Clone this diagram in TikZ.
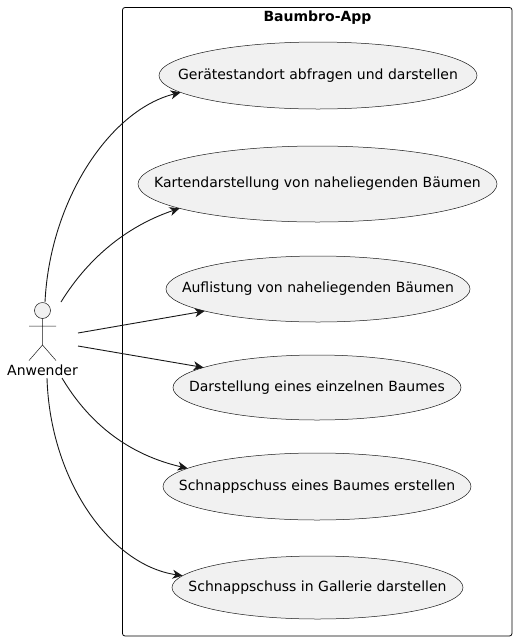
\documentclass[tikz,border=0pt]{standalone}
\usepackage{fontspec}
\setmainfont{DejaVu Sans}
\usetikzlibrary{shapes.geometric,arrows.meta}
\definecolor{cf1f1f1}{RGB}{241,241,241}
\definecolor{c181818}{RGB}{24,24,24}
\tikzset{
  usecase/.style={ellipse,draw=c181818,fill=cf1f1f1,line width=0.5pt,
    inner sep=0pt},
  every label/.style={font=\fontsize{14}{16}\selectfont,text=black},
  assoc/.style={draw=c181818,line width=0.9pt,
    -{Stealth[length=10pt,width=9pt,inset=3pt]}},
}

\begin{document}
\begin{tikzpicture}[y=1pt, x=1pt,yscale=-1, inner sep=0pt, outer sep=0pt]
  \useasboundingbox (0,0) rectangle (518,641);
  % system boundary
  \path[draw=black,line width=0.8pt,rounded corners=2.5pt]
    (122.5,7.5) rectangle (512,636);
  \path (317.5,17.5) node[font=\bfseries\fontsize{14}{16}\selectfont] (title)
    {Baumbro-App};

  % use cases
  \node[usecase,minimum width=318pt,minimum height=67pt,
    label={center:Gerätestandort abfragen und darstellen}] (uc1) at (318,75.5) {};
  \node[usecase,minimum width=359pt,minimum height=76pt,
    label={center:Kartendarstellung von naheliegenden Bäumen}] (uc2) at (317.5,184) {};
  \node[usecase,minimum width=304pt,minimum height=66pt,
    label={center:Auflistung von naheliegenden Bäumen}] (uc3) at (318,289) {};
  \node[usecase,minimum width=288pt,minimum height=65pt,
    label={center:Darstellung eines einzelnen Baumes}] (uc4) at (317,387.5) {};
  \node[usecase,minimum width=308pt,minimum height=67pt,
    label={center:Schnappschuss eines Baumes erstellen}] (uc5) at (317,486.5) {};
  \node[usecase,minimum width=291pt,minimum height=63pt,
    label={center:Schnappschuss in Gallerie darstellen}] (uc6) at (317.5,587.5) {};

  % actor
  \path[draw=c181818,fill=cf1f1f1,line width=0.5pt] (42.5,310.5) circle (8pt);
  \path[draw=c181818,line width=0.5pt] (42.5,318.5) -- (42.5,345)
    (29,326) -- (56,326)
    (29,360.5) -- (42.5,345) -- (56,360.5);
  \path (42.5,370) node[font=\fontsize{14}{16}\selectfont] (user) {Anwender};
  \coordinate (a1) at (45,302);
  \coordinate (a2) at (61,302);
  \coordinate (a3) at (78,333);
  \coordinate (a4) at (78,346);
  \coordinate (a5) at (62,378);
  \coordinate (a6) at (47,378);

  % associations
  \draw[assoc] (a1) .. controls (50,200) and (110,110) .. (uc1.187);
  \draw[assoc] (a2) .. controls (90,255) and (130,225) .. (uc2.190);
  \draw[assoc] (a3) -- (uc3.191);
  \draw[assoc] (a4) -- (uc4.170);
  \draw[assoc] (a5) .. controls (90,425) and (130,455) .. (uc5.172);
  \draw[assoc] (a6) .. controls (50,480) and (110,565) .. (uc6.175);
\end{tikzpicture}
\end{document}
